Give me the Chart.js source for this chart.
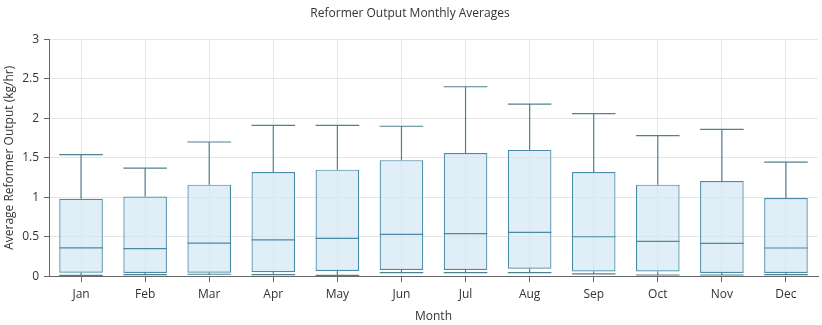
<!DOCTYPE html>
<html>
<head>
<meta charset="utf-8">
<script src="https://cdn.jsdelivr.net/npm/chart.js@4"></script>
<style>
  body { margin: 0; background: #fff; }
  #wrap { width: 822px; height: 325px; }
</style>
</head>
<body>
<div id="wrap"><canvas id="boxChart"></canvas></div>
<script>
const months = ['Jan', 'Feb', 'Mar', 'Apr', 'May', 'Jun', 'Jul', 'Aug', 'Sep', 'Oct', 'Nov', 'Dec'];
const minValues = [0.01, 0.02, 0.025, 0.02, 0.01, 0.045, 0.045, 0.045, 0.03, 0.015, 0.015, 0.02];
const q1Values = [0.045, 0.04, 0.045, 0.05, 0.065, 0.08, 0.08, 0.095, 0.06, 0.06, 0.04, 0.04];
const medianValues = [0.36, 0.35, 0.42, 0.46, 0.48, 0.53, 0.54, 0.555, 0.50, 0.44, 0.415, 0.357];
const q3Values = [0.98, 1.01, 1.16, 1.32, 1.35, 1.47, 1.56, 1.60, 1.32, 1.16, 1.205, 0.99];
const maxValues = [1.54, 1.37, 1.70, 1.91, 1.91, 1.90, 2.40, 2.18, 2.06, 1.78, 1.86, 1.445];

const boxStroke = '#4a8aa6';
const whiskerStroke = '#4f8290';

// Whiskers and medians drawn with the chart's own scales
const boxPlugin = {
    id: 'boxExtras',
    afterDatasetsDraw(chart) {
        const ctx = chart.ctx;
        const x = chart.scales.x;
        const y = chart.scales.y;
        const meta = chart.getDatasetMeta(0);
        ctx.save();
        ctx.lineWidth = 1.2;
        months.forEach((m, i) => {
            const bar = meta.data[i];
            const half = bar.width / 2;
            const cx = x.getPixelForValue(i);
            const yMax = y.getPixelForValue(maxValues[i]);
            const yQ3 = y.getPixelForValue(q3Values[i]);
            const yQ1 = y.getPixelForValue(q1Values[i]);
            const yMin = y.getPixelForValue(minValues[i]);
            const yMed = y.getPixelForValue(medianValues[i]);
            ctx.strokeStyle = whiskerStroke;
            ctx.beginPath();
            ctx.moveTo(cx, yQ3); ctx.lineTo(cx, yMax);
            ctx.moveTo(cx - half, yMax); ctx.lineTo(cx + half, yMax);
            ctx.moveTo(cx, yQ1); ctx.lineTo(cx, yMin);
            ctx.moveTo(cx - half, yMin); ctx.lineTo(cx + half, yMin);
            ctx.stroke();
            ctx.strokeStyle = boxStroke;
            ctx.beginPath();
            ctx.moveTo(cx - half, yMed); ctx.lineTo(cx + half, yMed);
            ctx.stroke();
        });
        ctx.restore();
    }
};

const ctx = document.getElementById('boxChart').getContext('2d');
new Chart(ctx, {
    type: 'bar',
    data: {
        labels: months,
        datasets: [{
            label: 'Reformer Output',
            data: months.map((m, i) => [q1Values[i], q3Values[i]]),
            backgroundColor: 'rgba(210, 231, 244, 0.7)',
            borderColor: boxStroke,
            borderWidth: 1.2,
            borderSkipped: false,
            barPercentage: 0.68,
            categoryPercentage: 1
        }]
    },
    options: {
        responsive: true,
        maintainAspectRatio: false,
        animation: false,
        layout: { padding: { top: 6, right: 4, left: 2, bottom: 1 } },
        plugins: {
            legend: { display: false },
            tooltip: { enabled: false },
            title: {
                display: true,
                text: 'Reformer Output Monthly Averages',
                color: '#333',
                font: { family: 'Open Sans', size: 12, weight: 'normal' },
                padding: { top: 0, bottom: 19 }
            }
        },
        scales: {
            x: {
                grid: { color: '#e6e6e6', offset: false, tickLength: 6, tickColor: '#666' },
                border: { color: '#666' },
                ticks: { color: '#333', font: { family: 'Open Sans', size: 12 }, padding: 5 },
                title: {
                    display: true,
                    text: 'Month',
                    color: '#333',
                    font: { family: 'Open Sans', size: 12 },
                    padding: { top: 3, bottom: 0 }
                }
            },
            y: {
                min: 0,
                max: 3,
                afterFit(scale) { scale.width = 47; },
                grid: { color: '#e6e6e6', tickLength: 5, tickColor: '#666' },
                border: { color: '#666' },
                ticks: {
                    stepSize: 0.5,
                    color: '#333',
                    font: { family: 'Open Sans', size: 12 },
                    padding: 5,
                    callback: v => String(Number(v))
                },
                title: {
                    display: true,
                    text: 'Average Reformer Output (kg/hr)',
                    color: '#333',
                    font: { family: 'Open Sans', size: 12 },
                    padding: { top: 0, bottom: 2 }
                }
            }
        }
    },
    plugins: [boxPlugin]
});
</script>
</body>
</html>
